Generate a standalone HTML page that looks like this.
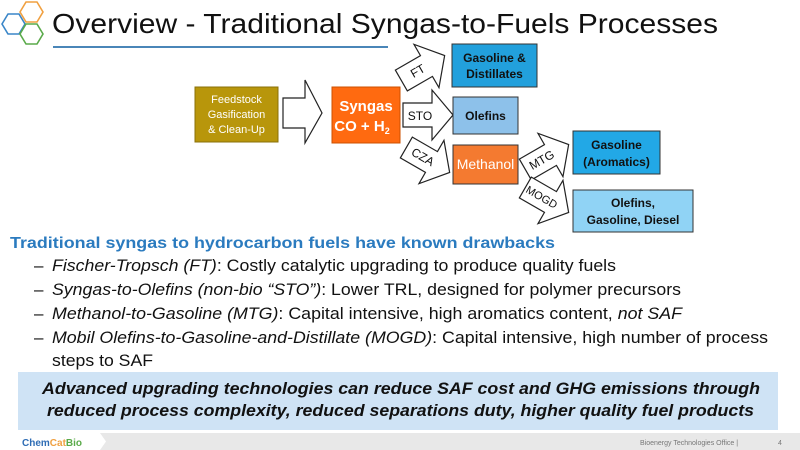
<!DOCTYPE html>
<html><head><meta charset="utf-8"><style>
html,body{margin:0;padding:0;background:#fff;}
svg{display:block;}
text{font-family:"Liberation Sans",Arial,sans-serif;}
</style></head><body>
<svg width="800" height="450" viewBox="0 0 800 450" xmlns="http://www.w3.org/2000/svg">
<defs>
<path id="arr" d="M-25,-12 L4,-12 L4,-25 L25,0 L4,25 L4,12 L-25,12 Z" fill="#fff" stroke="#222" stroke-width="1.2"/>
</defs>
<!-- logo hexes -->
<g fill="none" stroke-width="1.6">
<polygon points="2,24 8,14 19,14 25,24 19,34 8,34" stroke="#3a86c8"/>
<polygon points="20,12 26,2 37,2 43,12 37,22 26,22" stroke="#f0a040"/>
<polygon points="20,34 26,24 37,24 43,34 37,44 26,44" stroke="#5aaa4a"/>
</g>
<text x="52" y="33" font-size="28" textLength="666" lengthAdjust="spacingAndGlyphs" fill="#111">Overview - Traditional Syngas-to-Fuels Processes</text>
<line x1="53" y1="47" x2="388" y2="47" stroke="#4a86b8" stroke-width="2"/>

<!-- diagram -->
<rect x="195" y="87" width="83" height="55" fill="#b8960b" stroke="#8a7008" stroke-width="1"/>
<text font-size="11" fill="#fff" text-anchor="middle"><tspan x="236.5" y="103">Feedstock</tspan><tspan x="236.5" y="118">Gasification</tspan><tspan x="236.5" y="133">&amp; Clean-Up</tspan></text>
<path d="M283,98 L305,98 L305,80 L322,113 L305,143 L305,128 L283,128 Z" fill="#fff" stroke="#222" stroke-width="1.2"/>
<rect x="332" y="87" width="68" height="56" fill="#ff6a10" stroke="#cc5000" stroke-width="1"/>
<text font-size="15" font-weight="bold" fill="#fff" text-anchor="middle"><tspan x="366" y="111">Syngas</tspan><tspan x="362" y="131">CO + H</tspan><tspan font-size="9" dy="3">2</tspan></text>

<use href="#arr" transform="translate(428,115)"/>
<text x="420" y="120" font-size="12" text-anchor="middle" fill="#111">STO</text>
<g transform="translate(423,68) rotate(-30)"><use href="#arr"/><text x="-6" y="4" font-size="12" text-anchor="middle" fill="#111">FT</text></g>
<g transform="translate(428,160) rotate(30)"><use href="#arr"/><text x="-6" y="4" font-size="12" text-anchor="middle" fill="#111">CZA</text></g>
<g transform="translate(547,157) rotate(-30)"><use href="#arr"/><text x="-6" y="4" font-size="12" text-anchor="middle" fill="#111">MTG</text></g>
<g transform="translate(547,200) rotate(30)"><use href="#arr"/><text x="-6" y="4" font-size="11" text-anchor="middle" fill="#111">MOGD</text></g>

<rect x="452" y="44" width="85" height="43" fill="#22a0dc" stroke="#333" stroke-width="1"/>
<text font-size="12" font-weight="bold" fill="#111" text-anchor="middle"><tspan x="494.5" y="62">Gasoline &amp;</tspan><tspan x="494.5" y="78">Distillates</tspan></text>
<rect x="453" y="97" width="65" height="37" fill="#8dc1ea" stroke="#333" stroke-width="1"/>
<text x="485.5" y="120" font-size="12" font-weight="bold" fill="#111" text-anchor="middle">Olefins</text>
<rect x="453" y="145" width="65" height="39" fill="#f47a30" stroke="#333" stroke-width="1"/>
<text x="485.5" y="169" font-size="14" fill="#fff" text-anchor="middle">Methanol</text>
<rect x="573" y="131" width="87" height="43" fill="#22a8e6" stroke="#333" stroke-width="1"/>
<text font-size="12" font-weight="bold" fill="#111" text-anchor="middle"><tspan x="616.5" y="149">Gasoline</tspan><tspan x="616.5" y="166">(Aromatics)</tspan></text>
<rect x="573" y="190" width="120" height="42" fill="#90d3f5" stroke="#333" stroke-width="1"/>
<text font-size="12" font-weight="bold" fill="#111" text-anchor="middle"><tspan x="633" y="207">Olefins,</tspan><tspan x="633" y="224">Gasoline, Diesel</tspan></text>

<!-- text -->
<text x="10" y="248" font-size="16" font-weight="bold" fill="#2b7bbf" textLength="545" lengthAdjust="spacingAndGlyphs">Traditional syngas to hydrocarbon fuels have known drawbacks</text>
<g font-size="17" fill="#111">
<text x="34" y="271">–</text><text x="52" y="271" textLength="564" lengthAdjust="spacingAndGlyphs"><tspan font-style="italic">Fischer-Tropsch (FT)</tspan>: Costly catalytic upgrading to produce quality fuels</text>
<text x="34" y="295">–</text><text x="52" y="295" textLength="629" lengthAdjust="spacingAndGlyphs"><tspan font-style="italic">Syngas-to-Olefins (non-bio “STO”)</tspan>: Lower TRL, designed for polymer precursors</text>
<text x="34" y="319">–</text><text x="52" y="319" textLength="630" lengthAdjust="spacingAndGlyphs"><tspan font-style="italic">Methanol-to-Gasoline (MTG)</tspan>: Capital intensive, high aromatics content, <tspan font-style="italic">not SAF</tspan></text>
<text x="34" y="343">–</text><text x="52" y="343" textLength="716" lengthAdjust="spacingAndGlyphs"><tspan font-style="italic">Mobil Olefins-to-Gasoline-and-Distillate (MOGD)</tspan>: Capital intensive, high number of process</text>
<text x="52" y="366" textLength="101" lengthAdjust="spacingAndGlyphs">steps to SAF</text>
</g>
<rect x="18" y="372" width="760" height="58" fill="#cfe3f5"/>
<g font-size="17" font-weight="bold" font-style="italic" fill="#111">
<text x="42" y="394" textLength="718" lengthAdjust="spacingAndGlyphs">Advanced upgrading technologies can reduce SAF cost and GHG emissions through</text>
<text x="47" y="416" textLength="707" lengthAdjust="spacingAndGlyphs">reduced process complexity, reduced separations duty, higher quality fuel products</text>
</g>
<!-- footer -->
<path d="M100,433 L800,433 L800,450 L100,450 L106,441.5 Z" fill="#e8e8e8"/>
<text x="22" y="446" font-size="10" font-weight="bold" fill="#2f6db5">Chem<tspan fill="#f0a040">Cat</tspan><tspan fill="#5aaa4a">Bio</tspan></text>
<text x="640" y="445" font-size="7" fill="#777">Bioenergy Technologies Office  |</text>
<text x="778" y="445" font-size="7" fill="#777">4</text>
</svg>
</body></html>
